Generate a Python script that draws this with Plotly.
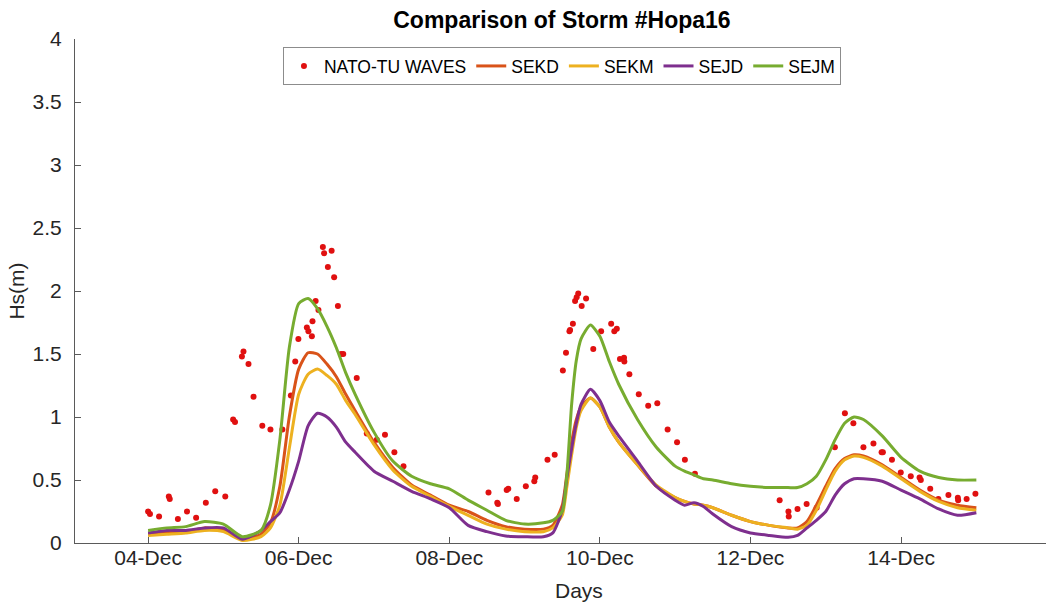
import datetime as dt
import plotly.graph_objects as go

# Start of the record: 04-Dec 00:00
T0 = dt.datetime(2016, 12, 4)

# Observed significant wave height (NATO-TU WAVES): hours after T0, Hs in metres
obs_hours = [0, 0.6, 3.5, 6.6, 6.9, 9.5, 12.4, 15.3, 18.4, 21.4, 24.6, 27.1, 27.7,
             29.9, 30.4, 32.0, 33.6, 36.4, 39.0, 42.8, 45.5, 46.9, 47.9, 50.6, 51.1,
             52.2, 52.4, 53.4, 54.3, 55.7, 56.1, 57.3, 58.5, 59.3, 60.5, 61.5, 62.2,
             66.5, 69.7, 72.9, 75.5, 78.5, 81.4,
             108.5, 111.3, 111.5, 114.3, 114.8, 117.5, 120.4, 123.1, 123.4, 127.3,
             129.6, 132.2, 133.2, 134.3, 134.5, 135.4, 136.1, 136.6, 137.1, 138.2,
             139.6, 141.9, 144.4, 147.6, 148.6, 149.4, 150.4, 151.7, 151.8, 153.4,
             156.4, 159.4, 162.3, 165.6, 168.6, 171.1, 174.3,
             201.3, 204.1, 204.2, 207.0, 209.9, 213.1, 218.9, 222.1, 224.8, 228.0,
             231.2, 233.8, 234.2, 237.1, 239.9, 243.1, 245.9, 246.3, 249.3, 251.9,
             255.1, 258.1, 258.2, 260.9, 263.7]
obs_hs = [0.25, 0.23, 0.21, 0.37, 0.35, 0.19, 0.25, 0.20, 0.32, 0.41, 0.37, 0.98, 0.96,
          1.48, 1.52, 1.42, 1.16, 0.93, 0.90, 0.90, 1.17, 1.44, 1.62, 1.71, 1.68,
          1.64, 1.76, 1.92, 1.85, 2.35, 2.30, 2.19, 2.32, 2.11, 1.88, 1.50, 1.50,
          1.31, 0.87, 0.82, 0.86, 0.72, 0.61,
          0.40, 0.32, 0.31, 0.42, 0.43, 0.35, 0.45, 0.49, 0.52, 0.66,
          0.70, 1.37, 1.51, 1.68, 1.69, 1.74, 1.92, 1.95, 1.98, 1.88,
          1.94, 1.54, 1.68, 1.74, 1.68, 1.70, 1.46, 1.47, 1.44, 1.34,
          1.18, 1.09, 1.11, 0.90, 0.80, 0.66, 0.55,
          0.34, 0.25, 0.21, 0.27, 0.31, 0.28, 0.76, 1.03, 0.95, 0.76,
          0.79, 0.72, 0.72, 0.66, 0.56, 0.53, 0.52, 0.50, 0.43, 0.35,
          0.38, 0.36, 0.34, 0.35, 0.39]

# Model output sampling times (hours after T0)
model_hours = [0, 6, 12, 18, 24, 30, 36, 39, 42, 45, 48, 51, 54, 57, 60, 63, 66,
               72, 78, 84, 90, 96, 102, 108, 114, 120, 126, 129, 132, 133.5, 135,
               136.5, 138, 141, 144, 147, 150, 156, 162, 168, 171, 174, 177, 180, 186,
               192, 198, 204, 207, 210, 213, 216, 219, 222, 225, 228, 234, 240, 246,
               252, 258, 264]

sekd = [0.07, 0.09, 0.09, 0.12, 0.10, 0.03, 0.07, 0.16, 0.45, 1.00, 1.38, 1.51, 1.50,
        1.42, 1.32, 1.18, 1.05, 0.80, 0.60, 0.46, 0.38, 0.30, 0.25, 0.18, 0.13, 0.11,
        0.11, 0.14, 0.30, 0.55, 0.80, 0.98, 1.08, 1.15, 1.08, 0.92, 0.80, 0.62, 0.45,
        0.36, 0.33, 0.31, 0.30, 0.28, 0.22, 0.17, 0.14, 0.12, 0.12, 0.17, 0.30, 0.45,
        0.59, 0.67, 0.70, 0.69, 0.62, 0.52, 0.42, 0.34, 0.30, 0.28]

sekm = [0.06, 0.07, 0.08, 0.10, 0.09, 0.02, 0.05, 0.12, 0.30, 0.75, 1.18, 1.34, 1.38,
        1.33, 1.26, 1.13, 1.02, 0.78, 0.58, 0.45, 0.37, 0.29, 0.22, 0.15, 0.11, 0.09,
        0.09, 0.12, 0.22, 0.45, 0.70, 0.92, 1.05, 1.15, 1.08, 0.92, 0.80, 0.62, 0.46,
        0.36, 0.33, 0.31, 0.30, 0.28, 0.22, 0.17, 0.14, 0.12, 0.11, 0.14, 0.26, 0.42,
        0.57, 0.66, 0.69, 0.68, 0.61, 0.51, 0.41, 0.33, 0.28, 0.26]

sejd = [0.08, 0.10, 0.10, 0.12, 0.12, 0.03, 0.10, 0.17, 0.24, 0.42, 0.65, 0.93, 1.03,
        1.00, 0.92, 0.80, 0.72, 0.57, 0.49, 0.41, 0.35, 0.28, 0.14, 0.09, 0.056, 0.05,
        0.05, 0.08, 0.26, 0.52, 0.75, 0.95, 1.10, 1.22, 1.13, 0.96, 0.85, 0.65, 0.45,
        0.34, 0.30, 0.32, 0.29, 0.23, 0.13, 0.08, 0.06, 0.045, 0.06, 0.12, 0.18, 0.25,
        0.38, 0.47, 0.51, 0.51, 0.49, 0.42, 0.35, 0.27, 0.22, 0.24]

sejm = [0.10, 0.12, 0.13, 0.17, 0.15, 0.05, 0.10, 0.30, 0.82, 1.55, 1.90, 1.94, 1.86,
        1.72, 1.55, 1.35, 1.18, 0.88, 0.65, 0.53, 0.47, 0.43, 0.34, 0.26, 0.18, 0.15,
        0.16, 0.18, 0.25, 0.55, 1.10, 1.45, 1.62, 1.73, 1.64, 1.44, 1.26, 0.98, 0.76,
        0.61, 0.57, 0.54, 0.51, 0.50, 0.47, 0.45, 0.44, 0.44, 0.44, 0.47, 0.53, 0.66,
        0.82, 0.95, 1.00, 0.98, 0.85, 0.68, 0.57, 0.52, 0.50, 0.50]

tick_days = [0, 2, 4, 6, 8, 10]
tick_labels = ["04-Dec", "06-Dec", "08-Dec", "10-Dec", "12-Dec", "14-Dec"]
y_ticks = [0, 0.5, 1, 1.5, 2, 2.5, 3, 3.5, 4]
y_tick_labels = ["0", "0.5", "1", "1.5", "2", "2.5", "3", "3.5", "4"]


def to_time(hours):
    return [T0 + dt.timedelta(hours=h) for h in hours]


model_t = to_time(model_hours)
series = [
    ("SEKD", sekd, "#D95319"),
    ("SEKM", sekm, "#EDB120"),
    ("SEJD", sejd, "#7E2F8E"),
    ("SEJM", sejm, "#77AC30"),
]

fig = go.Figure()
fig.add_trace(go.Scatter(
    x=to_time(obs_hours), y=obs_hs, mode="markers", name="NATO-TU WAVES",
    marker=dict(color="#E01010", size=6),
))
for name, vals, col in series:
    fig.add_trace(go.Scatter(
        x=model_t, y=vals, mode="lines", name=name,
        line=dict(color=col, width=3, shape="spline", smoothing=0.6),
    ))

font_family = "Liberation Sans, Arial, sans-serif"
axis_col = "#5a5a5a"

fig.update_layout(
    width=1046, height=606,
    margin=dict(l=75, r=0, t=39, b=63),
    paper_bgcolor="white", plot_bgcolor="white",
    font=dict(family=font_family, size=20, color="#262626"),
    title=dict(text="<b>Comparison of Storm #Hopa16</b>", xref="paper", x=0.5015,
               xanchor="center", y=0.967, yanchor="middle",
               font=dict(size=23, color="#000000")),
    legend=dict(orientation="h", x=0.5015, xanchor="center", y=0.984, yanchor="top",
                bgcolor="white", bordercolor="#8c8c8c", borderwidth=1,
                font=dict(size=17.5, color="#000000"), itemwidth=30,
                tracegroupgap=0),
    showlegend=True,
)

fig.update_xaxes(
    range=[T0 - dt.timedelta(hours=23.3), T0 + dt.timedelta(hours=286.2)],
    tickvals=[T0 + dt.timedelta(days=d) for d in tick_days],
    ticktext=tick_labels,
    ticks="inside", ticklen=6, tickcolor=axis_col,
    showline=True, linecolor=axis_col, linewidth=1,
    showgrid=False, zeroline=False,
    ticklabelstandoff=-4,
    tickfont=dict(size=21, color="#262626"),
)
fig.update_yaxes(
    range=[0, 4],
    tickvals=y_ticks, ticktext=y_tick_labels,
    ticks="inside", ticklen=6, tickcolor=axis_col,
    showline=True, linecolor=axis_col, linewidth=1,
    showgrid=False, zeroline=False,
    ticklabelstandoff=8,
    tickfont=dict(size=21, color="#262626"),
    title=dict(text="Hs(m)", font=dict(size=21, color="#262626"), standoff=2),
)

fig.add_annotation(text="Days", xref="paper", yref="paper", x=0.519, y=-0.095,
                   showarrow=False, xanchor="center", yanchor="middle",
                   font=dict(size=21, color="#262626"))

fig.write_html("out.html")
